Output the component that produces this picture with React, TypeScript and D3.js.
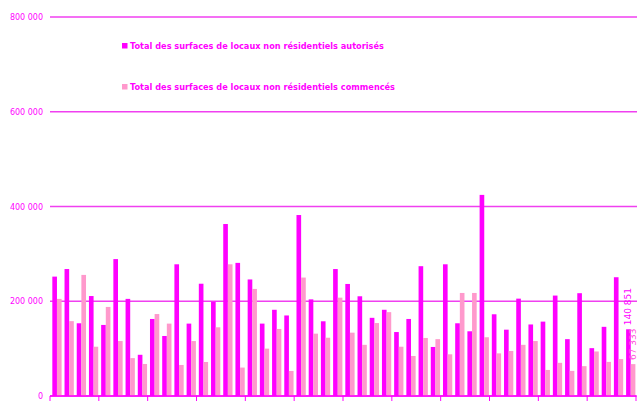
import React, { useEffect, useRef } from "react";
import * as d3 from "d3";

// quarterly values, 48 periods
const autorises = [
	252000, 268000, 153500, 211000, 150000, 289000, 205000, 87000, 162600, 126700, 278000, 152800,
	237000, 199000, 363000, 281000, 246000, 152800, 182000, 170000, 382000, 204000, 157700, 268000,
	236500, 210500, 165000, 182000, 135000, 162600, 274000, 103500, 278000, 153500, 136600, 424500,
	172500, 140000, 205500, 151000, 157000, 212000, 120000, 217000, 101000, 146000, 250700, 140851,
];
const commences = [
	205000, 158000, 255600, 104000, 188000, 116000, 80000, 67600, 173000, 152800, 65500, 116000,
	71800, 145000, 278000, 60000, 226000, 100000, 141500, 52800, 250000, 131600, 123000, 207600,
	133700, 108000, 154000, 177000, 104000, 84500, 122500, 120000, 88000, 217500, 217500, 124000,
	90000, 95000, 108000, 116000, 55000, 70000, 53000, 63000, 94000, 72000, 78000, 67333,
];
const seriesNames = [
	"Total des surfaces de locaux non résidentiels autorisés",
	"Total des surfaces de locaux non résidentiels commencés",
];
const yTicks = [0, 200000, 400000, 600000, 800000];

const COLORS = ["#ff00ff", "#ff99cc"];

function draw(ref: SVGSVGElement) {
	const width = 638;
	const height = 401;
	const svg = d3.select(ref).attr("width", width).attr("height", height);
	svg.selectAll("*").remove();

	const n = autorises.length;
	const left = 50;
	const right = 636;
	const x0 = d3.scaleLinear().domain([0, n]).range([left, right]);
	const step = x0(1) - x0(0);
	const x1 = d3.scaleBand<number>().domain([0, 1]).range([step * 0.19, step * 0.95]).padding(0);
	const y = d3.scaleLinear().domain([0, 800000]).range([396, 17]);
	const fmt = d3.formatLocale({ decimal: ",", thousands: " ", grouping: [3], currency: ["", ""] }).format(",d");

	// gridlines + y labels
	svg
		.selectAll(".grid")
		.data(yTicks)
		.enter()
		.append("line")
		.attr("x1", left)
		.attr("x2", 637)
		.attr("y1", (d) => y(d))
		.attr("y2", (d) => y(d))
		.attr("stroke", "#f040f0")
		.attr("stroke-width", 1.3);
	svg
		.selectAll(".ylab")
		.data(yTicks)
		.enter()
		.append("text")
		.attr("x", 43)
		.attr("y", (d) => y(d) + 3)
		.attr("text-anchor", "end")
		.attr("font-family", "DejaVu Sans")
		.attr("font-size", 8)
		.attr("fill", "#ff00ff")
		.text((d) => fmt(d));

	// bars
	const series = [autorises, commences];
	series.forEach((vals, s) => {
		svg
			.append("g")
			.selectAll("rect")
			.data(vals)
			.enter()
			.append("rect")
			.attr("x", (_d, i) => x0(i) + (x1(s) as number))
			.attr("y", (d) => y(d))
			.attr("width", x1.bandwidth())
			.attr("height", (d) => y(0) - y(d))
			.attr("fill", COLORS[s]);
	});

	// x axis with a tick every 4 quarters
	svg
		.append("line")
		.attr("x1", left)
		.attr("x2", right)
		.attr("y1", 396)
		.attr("y2", 396)
		.attr("stroke", "#ff00ff")
		.attr("stroke-width", 1.3);
	svg
		.selectAll(".xt")
		.data(d3.range(0, n + 1, 4))
		.enter()
		.append("line")
		.attr("x1", (d) => x0(d))
		.attr("x2", (d) => x0(d))
		.attr("y1", 396)
		.attr("y2", 401)
		.attr("stroke", "#ff00ff");

	// value labels for the last quarter
	const last = n - 1;
	series.forEach((vals, s) => {
		const cx = x0(last) + (x1(s) as number) + x1.bandwidth() / 2 + 3;
		const cy = y(vals[last]) - 4;
		svg
			.append("text")
			.attr("transform", `translate(${cx},${cy}) rotate(-90)`)
			.attr("font-family", "DejaVu Sans")
			.attr("font-size", 9)
			.attr("fill", s === 0 ? "#ff00ff" : "#ff55dd")
			.text(fmt(vals[last]));
	});

	// legend
	const legend = svg
		.selectAll(".leg")
		.data(seriesNames)
		.enter()
		.append("g")
		.attr("transform", (_d, i) => `translate(122,${46 + i * 41})`);
	legend
		.append("rect")
		.attr("x", 0)
		.attr("y", -3)
		.attr("width", 5.5)
		.attr("height", 5.5)
		.attr("fill", (_d, i) => COLORS[i]);
	legend
		.append("text")
		.attr("x", 8)
		.attr("y", 3)
		.attr("font-family", "DejaVu Sans")
		.attr("font-size", 8.2)
		.attr("font-weight", "bold")
		.attr("fill", "#ff00ff")
		.text((d) => d);
}

export default function App() {
	const ref = useRef<SVGSVGElement>(null);
	useEffect(() => {
		if (!ref.current) return;
		draw(ref.current);
	}, []);
	return (
		<svg
			ref={ref}
			style={{ position: "absolute", left: 0, top: 0, background: "#fff" }}
		/>
	);
}
